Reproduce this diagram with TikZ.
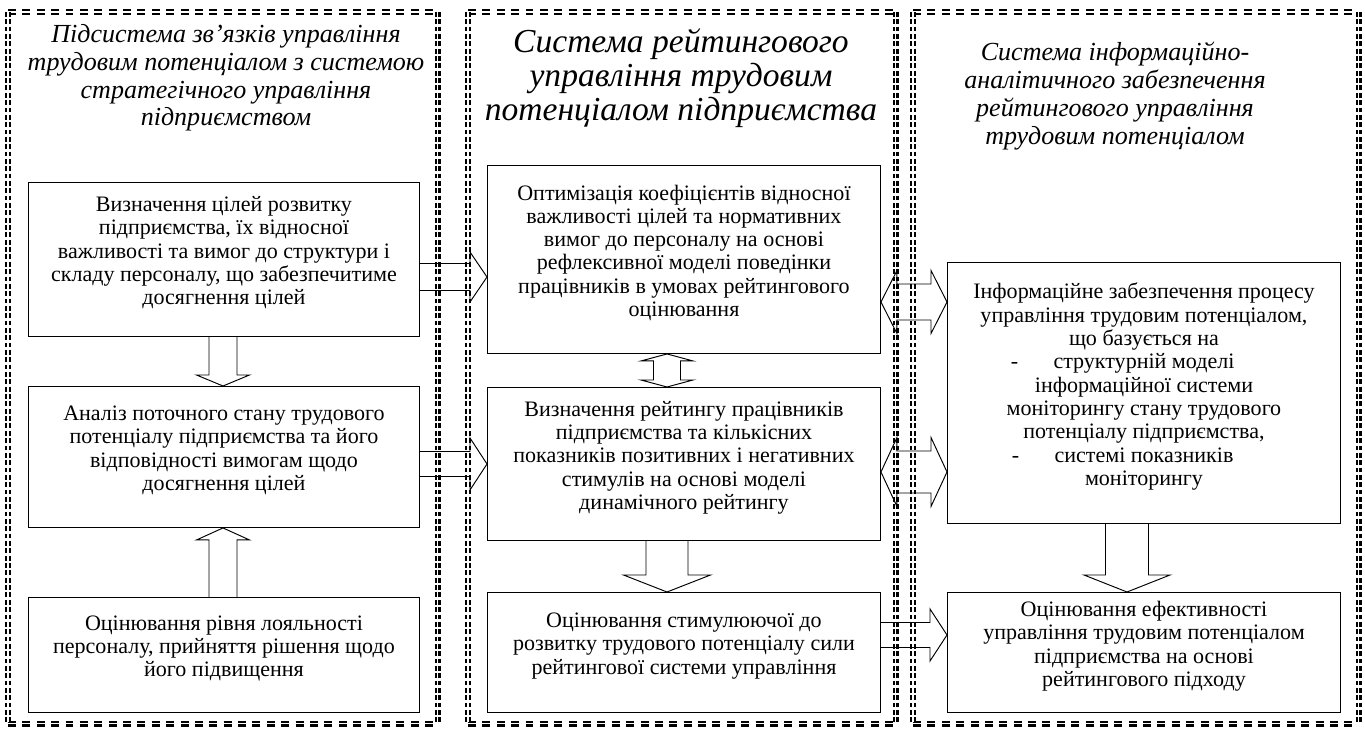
\documentclass[tikz,border=0pt]{standalone}
\usepackage{fontspec}
\setmainfont{Liberation Serif}
\usetikzlibrary{calc}

\newdimen\px \px=0.022cm

% block arrows: from node, to node, position, shaft half, head half, head length
\newcommand{\rarrow}[6]{%
  \coordinate (s) at (#1.east |- 0,#3);
  \coordinate (e) at (#2.west |- 0,#3);
  \draw[blockarr] ($(s)+(0,-#4)$) -- ($(e)+(-#6,-#4)$) -- ($(e)+(-#6,-#5)$) -- (e)
    -- ($(e)+(-#6,#5)$) -- ($(e)+(-#6,#4)$) -- ($(s)+(0,#4)$);}
\newcommand{\lrarrow}[6]{%
  \coordinate (s) at (#1.east |- 0,#3);
  \coordinate (e) at (#2.west |- 0,#3);
  \draw[blockarr] (s) -- ($(s)+(#6,-#5)$) -- ($(s)+(#6,-#4)$) -- ($(e)+(-#6,-#4)$)
    -- ($(e)+(-#6,-#5)$) -- (e) -- ($(e)+(-#6,#5)$) -- ($(e)+(-#6,#4)$)
    -- ($(s)+(#6,#4)$) -- ($(s)+(#6,#5)$) -- cycle;}
\newcommand{\darrow}[6]{%
  \coordinate (s) at (#1.south -| #3,0);
  \coordinate (e) at (#2.north -| #3,0);
  \draw[blockarr] ($(s)+(-#4,0)$) -- ($(e)+(-#4,-#6)$) -- ($(e)+(-#5,-#6)$) -- (e)
    -- ($(e)+(#5,-#6)$) -- ($(e)+(#4,-#6)$) -- ($(s)+(#4,0)$);}
\newcommand{\uarrow}[6]{%
  \coordinate (s) at (#1.north -| #3,0);
  \coordinate (e) at (#2.south -| #3,0);
  \draw[blockarr] ($(s)+(-#4,0)$) -- ($(e)+(-#4,#6)$) -- ($(e)+(-#5,#6)$) -- (e)
    -- ($(e)+(#5,#6)$) -- ($(e)+(#4,#6)$) -- ($(s)+(#4,0)$);}
\newcommand{\udarrow}[6]{%
  \coordinate (s) at (#1.south -| #3,0);
  \coordinate (e) at (#2.north -| #3,0);
  \draw[blockarr] (s) -- ($(s)+(-#5,#6)$) -- ($(s)+(-#4,#6)$) -- ($(e)+(-#4,-#6)$)
    -- ($(e)+(-#5,-#6)$) -- (e) -- ($(e)+(#5,-#6)$) -- ($(e)+(#4,-#6)$)
    -- ($(s)+(#4,#6)$) -- ($(s)+(#5,#6)$) -- cycle;}

\tikzset{
  panel/.style={inner sep=0pt, anchor=north west},
  hline/.style={double, line width=1.4pt, double distance=1pt, dash pattern=on 5pt off 4pt},
  vline/.style={double, line width=1.4pt, double distance=1pt, dash pattern=on 3pt off 1.6pt},
  blk/.style={draw, line width=0.6pt, align=center, inner sep=0pt, anchor=north west,
    text depth=11pt, font=\fontsize{13.8}{14.6}\selectfont},
  ttl/.style={align=center, font=\fontsize{16.3}{17.4}\selectfont\itshape},
  blockarr/.style={draw, line width=0.6pt, line join=miter},
}

\begin{document}
\begin{tikzpicture}[x=0.022cm, y=-0.022cm]
\useasboundingbox (0,0) rectangle (1365,734);

% three subsystems
\node[panel, minimum width=429\px, minimum height=711\px] (p1) at (8,12) {};
\node[panel, minimum width=427\px, minimum height=711\px] (p2) at (468,12) {};
\node[panel, minimum width=445\px, minimum height=711\px] (p3) at (913,12) {};
\foreach \p in {p1,p2,p3} {
  \draw[hline] (\p.north west) -- (\p.north east) (\p.south west) -- (\p.south east);
  \draw[vline] (\p.north west) -- (\p.south west) (\p.north east) -- (\p.south east);
}

\node[ttl] (t1) at (226,78) {Підсистема зв’язків управління\\ трудовим потенціалом з системою\\ стратегічного управління\\ підприємством};
\node[ttl, font=\fontsize{21}{21.2}\selectfont\itshape] (t2) at (681,78) {Система рейтингового\\ управління трудовим\\ потенціалом підприємства};
\node[ttl] (t3) at (1115,96) {Система інформаційно-\\ аналітичного забезпечення\\ рейтингового управління\\ трудовим потенціалом};

% left column
\node[blk, minimum width=391\px, minimum height=154\px] (l1) at (28,182)
  {Визначення цілей розвитку\\ підприємства, їх відносної\\ важливості та вимог до структури і\\ складу персоналу, що забезпечитиме\\ досягнення цілей};
\node[blk, minimum width=391\px, minimum height=141\px] (l2) at (28,386)
  {Аналіз поточного стану трудового\\ потенціалу підприємства та його\\ відповідності вимогам щодо\\ досягнення цілей};
\node[blk, minimum width=391\px, minimum height=115\px] (l3) at (28,597)
  {Оцінювання рівня лояльності\\ персоналу, прийняття рішення щодо\\ його підвищення};

% middle column
\node[blk, minimum width=393\px, minimum height=188\px] (m1) at (487,165)
  {Оптимізація коефіцієнтів відносної\\ важливості цілей та нормативних\\ вимог до персоналу на основі\\ рефлексивної моделі поведінки\\ працівників в умовах рейтингового\\ оцінювання};
\node[blk, minimum width=393\px, minimum height=153\px] (m2) at (487,387)
  {Визначення рейтингу працівників\\ підприємства та кількісних\\ показників позитивних і негативних\\ стимулів на основі моделі\\ динамічного рейтингу};
\node[blk, minimum width=393\px, minimum height=120\px] (m3) at (487,592)
  {Оцінювання стимулюючої до\\ розвитку трудового потенціалу сили\\ рейтингової системи управління};

% right column
\node[blk, minimum width=393\px, minimum height=261\px] (r1) at (947,262)
  {Інформаційне забезпечення процесу\\ управління трудовим потенціалом,\\ що базується на\\
   \makebox[0pt][r]{-\hspace{1.6em}}структурній моделі\\ інформаційної системи\\
   моніторингу стану трудового\\ потенціалу підприємства,\\
   \makebox[0pt][r]{-\hspace{1.6em}}системі показників\\ моніторингу};
\node[blk, minimum width=393\px, minimum height=120\px] (r2) at (947,592)
  {Оцінювання ефективності\\ управління трудовим потенціалом\\ підприємства на основі\\ рейтингового підходу};

% arrows
\darrow{l1}{l2}{223}{14}{26.5}{11}
\uarrow{l3}{l2}{223}{14}{26.5}{12}
\rarrow{l1}{m1}{277}{13.5}{25}{17}
\rarrow{l2}{m2}{464}{12.5}{26}{17}
\udarrow{m1}{m2}{667}{13.5}{26}{7}
\darrow{m2}{m3}{667}{21}{43.5}{17}
\lrarrow{m1}{r1}{302}{18}{31.5}{16}
\lrarrow{m2}{r1}{472}{21}{34.5}{16}
\darrow{r1}{r2}{1127}{21.5}{43}{17}
\rarrow{m3}{r2}{635}{12.5}{26}{17}
\end{tikzpicture}
\end{document}
